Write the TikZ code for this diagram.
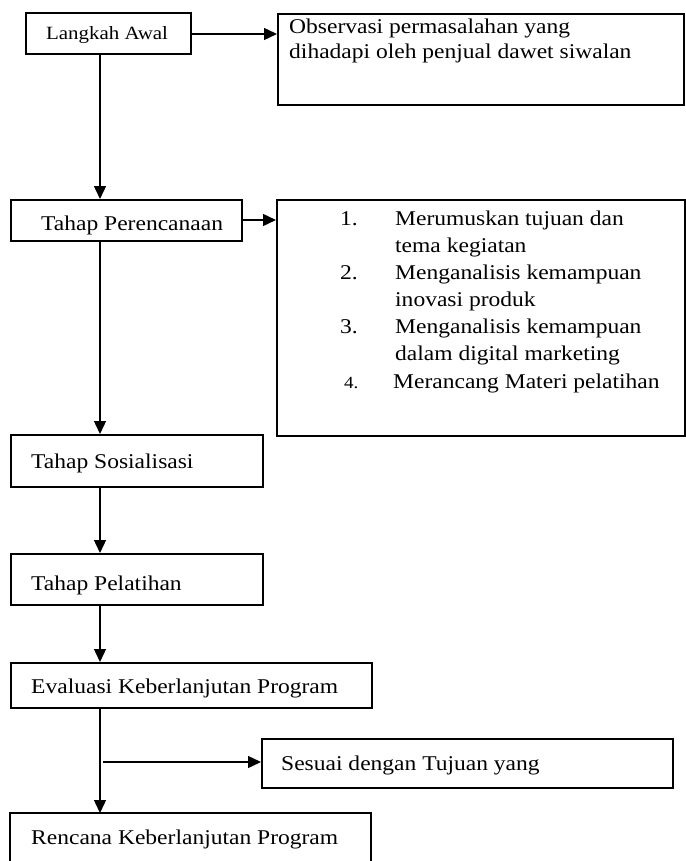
\documentclass[tikz,border=0pt]{standalone}
\usepackage{fontspec}
\setmainfont{Liberation Serif}[FakeStretch=1.12]
\usetikzlibrary{arrows.meta}
\begin{document}
\begin{tikzpicture}[x=1pt,y=-1pt,
  box/.style={draw=black,line width=1.7pt,inner sep=0pt,anchor=north west},
  arr/.style={line width=1.4pt,-{Triangle[length=13pt,width=12pt]}},
  txt/.style={inner sep=0pt,anchor=base west,font=\fontsize{21}{25}\selectfont},
]
\useasboundingbox (0,0) rectangle (685,861);
\coordinate (xl) at (100,0);
% boxes
\node[box,minimum width=165,minimum height=41] (langkah) at (25,12) {};
\node[box,minimum width=406,minimum height=91] (obs) at (277,13) {};
\node[box,minimum width=231,minimum height=41] (peren) at (10,199) {};
\node[box,minimum width=408,minimum height=236] (list) at (276,199) {};
\node[box,minimum width=252,minimum height=52] (sos) at (10,434) {};
\node[box,minimum width=252,minimum height=51] (pel) at (10,553) {};
\node[box,minimum width=361,minimum height=45] (eval) at (10,662) {};
\node[box,minimum width=411,minimum height=49] (sesuai) at (261,738) {};
\coordinate (renTL) at (10,813);
\coordinate (renTR) at (371,813);
\coordinate (renBL) at (10,870);
\coordinate (renBR) at (371,870);
\draw[line width=1.7pt] (renBL) -- (renTL) -- (renTR) -- (renBR);
% texts
\node[inner sep=0pt,anchor=base,font=\fontsize{18.7}{22}\selectfont] (tl) at (107,40) {Langkah Awal};
\node[txt] (to1) at (289,34) {Observasi permasalahan yang};
\node[txt] (to2) at (289,59) {dihadapi oleh penjual dawet siwalan};
\node[txt] (tp) at (41,230) {Tahap Perencanaan};
\node[txt] (n1) at (340,225) {1.};
\node[txt] (l1a) at (395,225) {Merumuskan tujuan dan};
\node[txt] (l1b) at (395,252) {tema kegiatan};
\node[txt] (n2) at (340,279) {2.};
\node[txt] (l2a) at (395,279) {Menganalisis kemampuan};
\node[txt] (l2b) at (395,306) {inovasi produk};
\node[txt] (n3) at (340,333) {3.};
\node[txt] (l3a) at (395,333) {Menganalisis kemampuan};
\node[txt] (l3b) at (395,360) {dalam digital marketing};
\node[inner sep=0pt,anchor=base west,font=\fontsize{17}{20}\selectfont] (n4) at (344,388) {4.};
\node[txt] (l4) at (393,388) {Merancang Materi pelatihan};
\node[txt] (ts) at (31,468) {Tahap Sosialisasi};
\node[txt] (tpl) at (31,590) {Tahap Pelatihan};
\node[txt] (te) at (31,693) {Evaluasi Keberlanjutan Program};
\node[txt] (tss) at (281,770) {Sesuai dengan Tujuan yang};
\node[txt] (tr) at (31,844) {Rencana Keberlanjutan Program};
% connectors
\draw[arr] (langkah.east |- 0,34) -- (obs.west |- 0,34);
\draw[arr] (langkah.south -| xl) -- (peren.north -| xl);
\draw[arr] (peren.east |- 0,220) -- (list.west |- 0,220);
\draw[arr] (peren.south -| xl) -- (sos.north -| xl);
\draw[arr] (sos.south -| xl) -- (pel.north -| xl);
\draw[arr] (pel.south -| xl) -- (eval.north -| xl);
\draw[arr] (eval.south -| xl) -- (renTL -| xl);
\coordinate (br) at (103,762);
\draw[arr] (br) -- (sesuai.west |- br);
\end{tikzpicture}
\end{document}
